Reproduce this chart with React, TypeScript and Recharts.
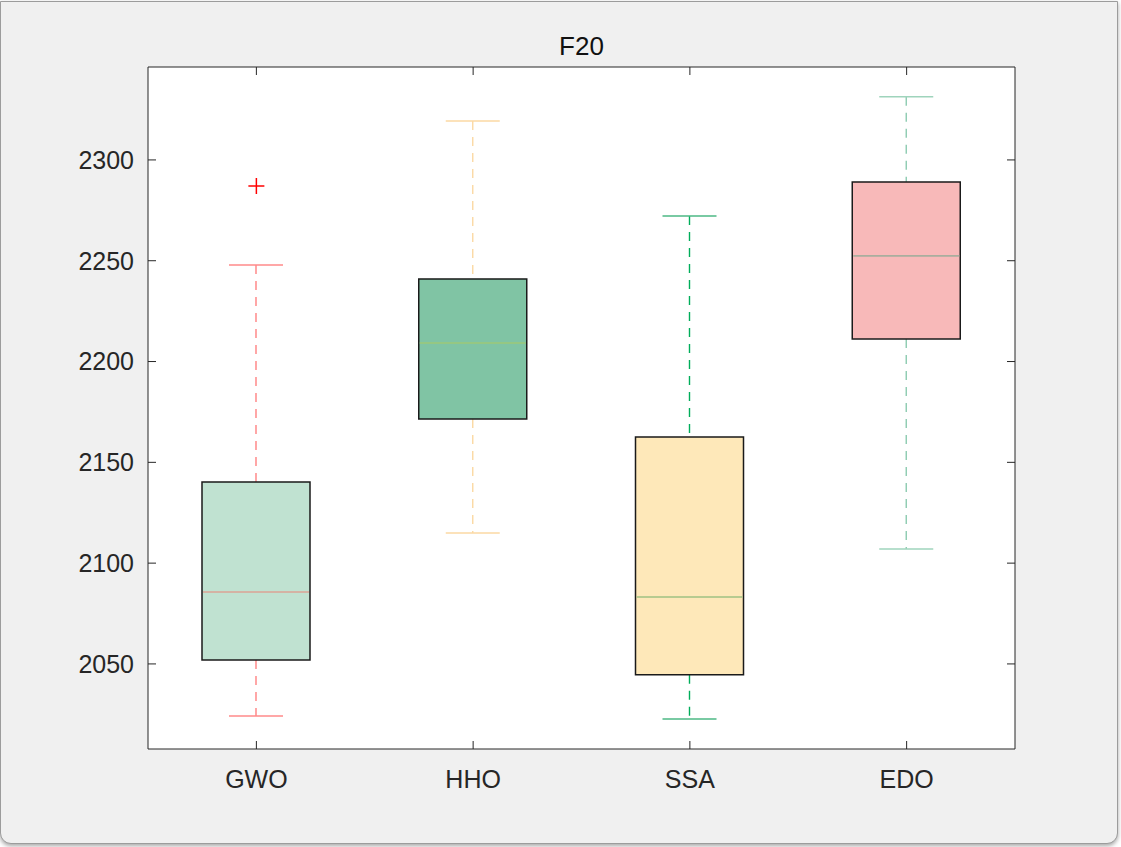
// F20 — box plot of four optimisers, MATLAB-style figure window

import React from 'react';
import { ComposedChart, Bar, Scatter, XAxis, YAxis, CartesianGrid } from 'recharts';

const algorithms = ['GWO', 'HHO', 'SSA', 'EDO'];
const lowerWhisker = [2024.2, 2115.0, 2022.7, 2107.0];
const q1 = [2052.0, 2171.5, 2044.6, 2211.2];
const median = [2085.7, 2209.2, 2083.2, 2252.4];
const q3 = [2140.3, 2241.0, 2162.6, 2289.1];
const upperWhisker = [2247.9, 2319.3, 2272.2, 2331.3];
const outliers: (number | null)[] = [2287.1, null, null, null];
const yTicks = [2050, 2100, 2150, 2200, 2250, 2300];
const yDomain: [number, number] = [2007.8, 2346.1];

const boxFill = ['#c0e2d1', '#80c4a4', '#fee8b9', '#f8b9b9'];
const whiskerColor = ['#ff8282', '#fbd9a3', '#00ad5a', '#8ccbb0'];
const capColor = ['#ff8a8a', '#fbd9a3', '#4cb884', '#9fd4bc'];
const medianColor = ['#dba394', '#9cc878', '#9fc283', '#a9ae9e'];

const data = algorithms.map((name, i) => ({
  name,
  lowerTail: [lowerWhisker[i], q1[i]],
  lowerBox: [q1[i], median[i]],
  upperBox: [median[i], q3[i]],
  upperTail: [q3[i], upperWhisker[i]],
  outlier: outliers[i],
}));

const FONT = '"Liberation Sans", Arial, Helvetica, sans-serif';
const AXIS = '#262626';
const EDGE = '#1a1a1a';

const idxOf = (p: any) => {
  const k = algorithms.indexOf(p?.payload?.name);
  return k >= 0 ? k : p.index ?? 0;
};

// whisker from box edge out to the cap
function UpperTail(p: any) {
  const i = idxOf(p);
  const cx = p.x + p.width / 2;
  return (
    <g>
      <line x1={cx} y1={p.y} x2={cx} y2={p.y + p.height} stroke={whiskerColor[i]} strokeWidth={1.4} strokeDasharray="9 7" />
      <line x1={cx - p.width / 4} y1={p.y} x2={cx + p.width / 4} y2={p.y} stroke={capColor[i]} strokeWidth={1.5} />
    </g>
  );
}

function LowerTail(p: any) {
  const i = idxOf(p);
  const cx = p.x + p.width / 2;
  const yb = p.y + p.height;
  return (
    <g>
      <line x1={cx} y1={p.y} x2={cx} y2={yb} stroke={whiskerColor[i]} strokeWidth={1.4} strokeDasharray="9 7" />
      <line x1={cx - p.width / 4} y1={yb} x2={cx + p.width / 4} y2={yb} stroke={capColor[i]} strokeWidth={1.5} />
    </g>
  );
}

function LowerBox(p: any) {
  const i = idxOf(p);
  const { x, y, width: w, height: h } = p;
  return (
    <g>
      <rect x={x} y={y} width={w} height={h} fill={boxFill[i]} />
      <path d={`M${x},${y} L${x},${y + h} L${x + w},${y + h} L${x + w},${y}`} fill="none" stroke={EDGE} strokeWidth={1.5} />
    </g>
  );
}

// upper half is drawn last, so the median line sits on its lower edge
function UpperBox(p: any) {
  const i = idxOf(p);
  const { x, y, width: w, height: h } = p;
  return (
    <g>
      <rect x={x} y={y} width={w} height={h} fill={boxFill[i]} />
      <path d={`M${x},${y + h} L${x},${y} L${x + w},${y} L${x + w},${y + h}`} fill="none" stroke={EDGE} strokeWidth={1.5} />
      <line x1={x + 1} y1={y + h} x2={x + w - 1} y2={y + h} stroke={medianColor[i]} strokeWidth={1.6} />
    </g>
  );
}

function Plus(p: any) {
  if (p?.payload?.outlier == null || p.cx == null || p.cy == null) return <g />;
  const s = 8;
  return (
    <g stroke="#ff0000" strokeWidth={1.5}>
      <line x1={p.cx - s} y1={p.cy} x2={p.cx + s} y2={p.cy} />
      <line x1={p.cx} y1={p.cy - s} x2={p.cx} y2={p.cy + s} />
    </g>
  );
}

const tickStyle = { fill: AXIS, fontSize: 25, fontFamily: FONT };
const blank = () => '';

export default function App() {
  return (
    <div style={{ position: 'absolute', left: 0, top: 0, width: 1121, height: 847, background: '#ffffff', overflow: 'hidden', fontFamily: FONT }}>
      <div
        style={{
          position: 'absolute', left: 0, top: 1, width: 1116, height: 841,
          background: '#f0f0f0', border: '1px solid #9c9c9c',
          borderRadius: '0 0 11px 11px', boxShadow: '0 2px 4px rgba(0,0,0,0.35)',
        }}
      />
      <div style={{ position: 'absolute', left: 148, top: 33, width: 867, textAlign: 'center', fontSize: 26, lineHeight: '26px', color: '#111' }}>
        F20
      </div>
      <div style={{ position: 'absolute', left: 0, top: 0 }}>
        <ComposedChart
          width={1121}
          height={847}
          data={data}
          margin={{ top: 0, right: 0, bottom: 0, left: 0 }}
          barSize={108}
          barGap={-108}
        >
          <CartesianGrid fill="#ffffff" horizontal={false} vertical={false} />
          <XAxis
            dataKey="name"
            type="category"
            height={98}
            tick={tickStyle}
            tickSize={-8}
            tickMargin={29}
            interval={0}
            axisLine={{ stroke: AXIS, strokeWidth: 1 }}
            tickLine={{ stroke: AXIS, strokeWidth: 1 }}
          />
          <XAxis
            xAxisId="top"
            dataKey="name"
            type="category"
            orientation="top"
            height={67}
            tickFormatter={blank}
            tickSize={-8}
            interval={0}
            axisLine={{ stroke: AXIS, strokeWidth: 1 }}
            tickLine={{ stroke: AXIS, strokeWidth: 1 }}
          />
          <YAxis
            type="number"
            width={148}
            domain={yDomain}
            ticks={yTicks}
            allowDataOverflow
            interval={0}
            tick={tickStyle}
            tickSize={-8}
            tickMargin={22}
            axisLine={{ stroke: AXIS, strokeWidth: 1 }}
            tickLine={{ stroke: AXIS, strokeWidth: 1 }}
          />
          <YAxis
            yAxisId="right"
            orientation="right"
            type="number"
            width={106}
            domain={yDomain}
            ticks={yTicks}
            allowDataOverflow
            interval={0}
            tickFormatter={blank}
            tickSize={-8}
            axisLine={{ stroke: AXIS, strokeWidth: 1 }}
            tickLine={{ stroke: AXIS, strokeWidth: 1 }}
          />
          <Bar dataKey="upperTail" shape={UpperTail} isAnimationActive={false} />
          <Bar dataKey="lowerTail" shape={LowerTail} isAnimationActive={false} />
          <Bar dataKey="lowerBox" shape={LowerBox} isAnimationActive={false} />
          <Bar dataKey="upperBox" shape={UpperBox} isAnimationActive={false} />
          <Scatter dataKey="outlier" shape={Plus} isAnimationActive={false} />
        </ComposedChart>
      </div>
    </div>
  );
}
